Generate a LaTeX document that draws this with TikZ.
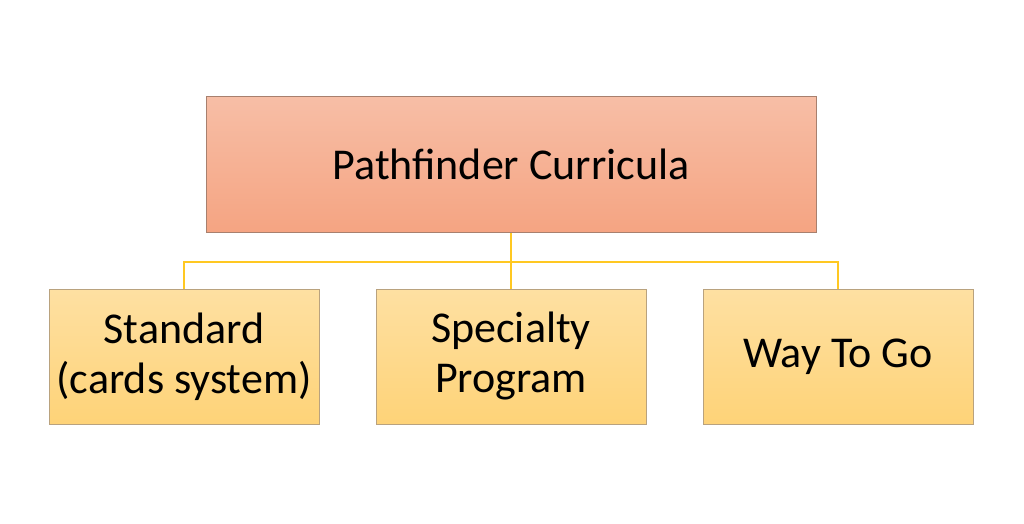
\documentclass[tikz,border=0pt]{standalone}
\usepackage{fontspec}
\setmainfont{Carlito}
\definecolor{topA}{HTML}{F7BEA6}
\definecolor{topB}{HTML}{F5A482}
\definecolor{topE}{HTML}{A8806E}
\definecolor{botA}{HTML}{FEE0A2}
\definecolor{botB}{HTML}{FED378}
\definecolor{botE}{HTML}{B9A27E}
\definecolor{conn}{HTML}{FFC822}
\begin{document}
\begin{tikzpicture}[x=1pt,y=1pt,
  topbox/.style={draw=topE,line width=1pt,top color=topA,bottom color=topB,minimum width=610pt,minimum height=135pt,inner sep=0pt,font=\fontsize{44}{50}\selectfont,align=center},
  botbox/.style={draw=botE,line width=1pt,top color=botA,bottom color=botB,minimum width=270pt,minimum height=135pt,inner sep=0pt,font=\fontsize{44}{50}\selectfont,align=center},
  link/.style={draw=conn,line width=1.5pt}]
\useasboundingbox[fill=white] (0,0) rectangle (1024,523);
\node[topbox] (root) at (511,358.5) {Pathfinder Curricula};
\node[botbox] (std) at (184,166.5) {Standard\\(cards system)};
\node[botbox] (spec) at (511,166.5) {Specialty\\Program};
\node[botbox] (way) at (838,166.5) {Way To Go};
\coordinate (j) at (511,261);
\draw[link] (root.south) -- (j);
\draw[link] (std.north) |- (j) -| (way.north);
\draw[link] (j) -- (spec.north);
\end{tikzpicture}
\end{document}
